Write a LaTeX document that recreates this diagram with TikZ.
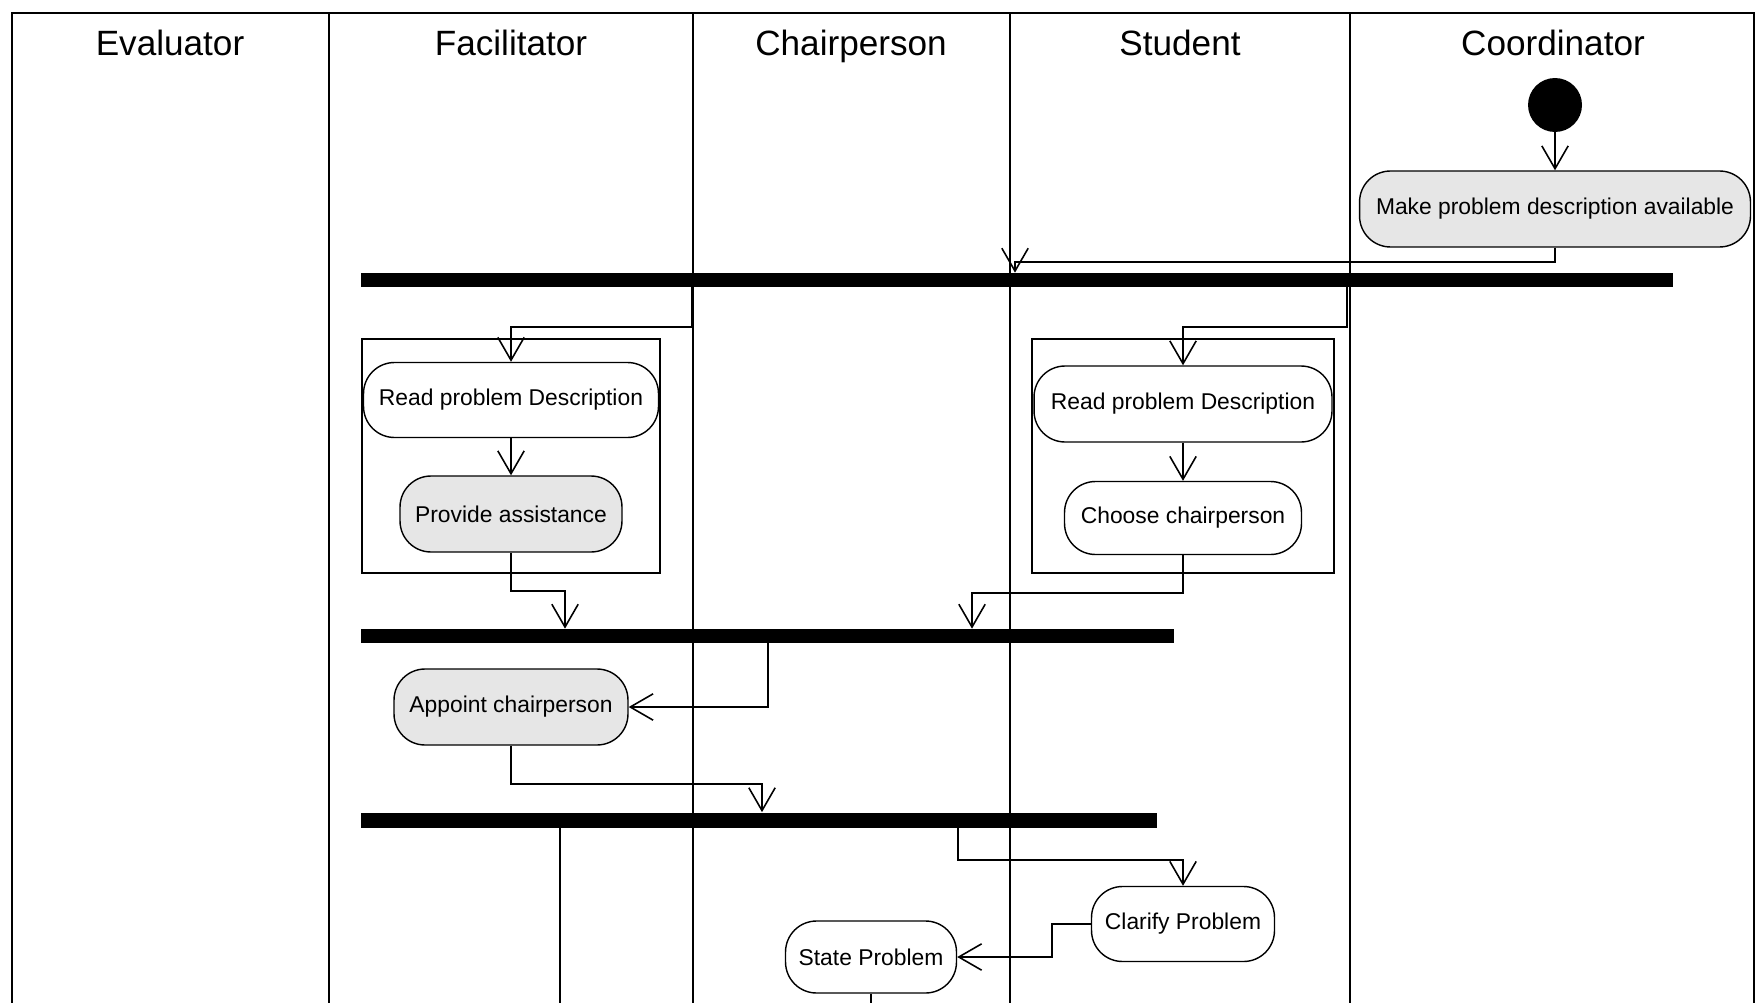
\documentclass[tikz,border=0pt]{standalone}
\usepackage{fontspec}
\setmainfont{Liberation Sans}
\usetikzlibrary{arrows.meta}
\definecolor{actgray}{RGB}{230,230,230}

\begin{document}
\begin{tikzpicture}[x=0.02cm, y=-0.02cm,
  lane/.style={line width=0.8pt},
  act/.style={draw, line width=0.8pt, rounded corners=0.62cm, minimum height=1.5cm,
    inner sep=0pt, fill=white, font=\fontsize{13}{15}\selectfont},
  bar/.style={fill=black, inner sep=0pt, minimum height=0.28cm},
  flow/.style={line width=0.9pt, -{Straight Barb[length=13pt, width=15pt]}},
  title/.style={anchor=base, font=\fontsize{20}{24}\selectfont}]

  \useasboundingbox (0,0) rectangle (1763,1003);

  % swimlanes
  \draw[lane] (12,1003) -- (12,13) -- (1754,13) -- (1754,1003);
  \foreach \x in {329,693,1010,1350}
    \draw[lane] (\x,13) -- (\x,1003);

  \node[title] (tEval) at (170,56) {Evaluator};
  \node[title] (tFac) at (511,56) {Facilitator};
  \node[title] (tChair) at (851,56) {Chairperson};
  \node[title] (tStud) at (1180,56) {Student};
  \node[title] (tCoord) at (1553,56) {Coordinator};

  % grouping boxes
  \draw[lane] (362,339) rectangle (660,573);
  \draw[lane] (1032,339) rectangle (1334,573);

  % activities and bars
  \node[circle, fill=black, minimum size=1.08cm, inner sep=0pt] (init) at (1555,105) {};
  \node[act, fill=actgray, minimum width=7.82cm, minimum height=1.52cm] (make) at (1555,209) {Make problem description available};
  \node[bar, minimum width=26.24cm] (bar1) at (1017,280) {};

  \node[act, minimum width=5.9cm] (readF) at (511,400) {Read problem Description};
  \node[act, fill=actgray, minimum width=4.44cm, minimum height=1.52cm] (assist) at (511,514) {Provide assistance};
  \node[act, minimum width=5.96cm, minimum height=1.52cm] (readS) at (1183,404) {Read problem Description};
  \node[act, minimum width=4.74cm, minimum height=1.46cm] (choose) at (1183,518) {Choose chairperson};
  \node[bar, minimum width=16.26cm] (bar2) at (767.5,636) {};

  \node[act, fill=actgray, minimum width=4.68cm, minimum height=1.52cm] (appoint) at (511,707) {Appoint chairperson};
  \node[bar, minimum width=15.92cm, minimum height=0.3cm] (bar3) at (759,820) {};

  \node[act, minimum width=3.66cm] (clarify) at (1183,924) {Clarify Problem};
  \node[act, minimum width=3.42cm, minimum height=1.44cm] (state) at (871,957) {State Problem};

  % control flow
  \draw[flow] (init) -- (make);
  \coordinate (j1) at (1015,262);
  \draw[flow] (make.south) |- (j1) -- (j1 |- bar1.north);

  \coordinate (j2) at (692,327);
  \draw[flow] (bar1.south -| j2) -- (j2) -| (readF.north);
  \coordinate (j3) at (1347,327);
  \draw[flow] (bar1.south -| j3) -- (j3) -| (readS.north);

  \draw[flow] (readF) -- (assist);
  \draw[flow] (readS) -- (choose);

  \coordinate (j4) at (565,591);
  \draw[flow] (assist.south) |- (j4) -- (j4 |- bar2.north);
  \coordinate (j5) at (972,593);
  \draw[flow] (choose.south) |- (j5) -- (j5 |- bar2.north);

  \coordinate (j6) at (768,707);
  \draw[flow] (bar2.south -| j6) |- (appoint.east);
  \coordinate (j7) at (762,784);
  \draw[flow] (appoint.south) |- (j7) -- (j7 |- bar3.north);

  \coordinate (out1) at (560,1003);
  \draw[line width=0.9pt] (bar3.south -| out1) -- (out1);
  \coordinate (j8) at (958,860);
  \draw[flow] (bar3.south -| j8) -- (j8) -| (clarify.north);
  \coordinate (j9) at (1052,924);
  \draw[flow] (clarify.west) -- (j9) |- (state.east);
  \coordinate (out2) at (state.south |- out1);
  \draw[line width=0.9pt] (state.south) -- (out2);

\end{tikzpicture}
\end{document}
